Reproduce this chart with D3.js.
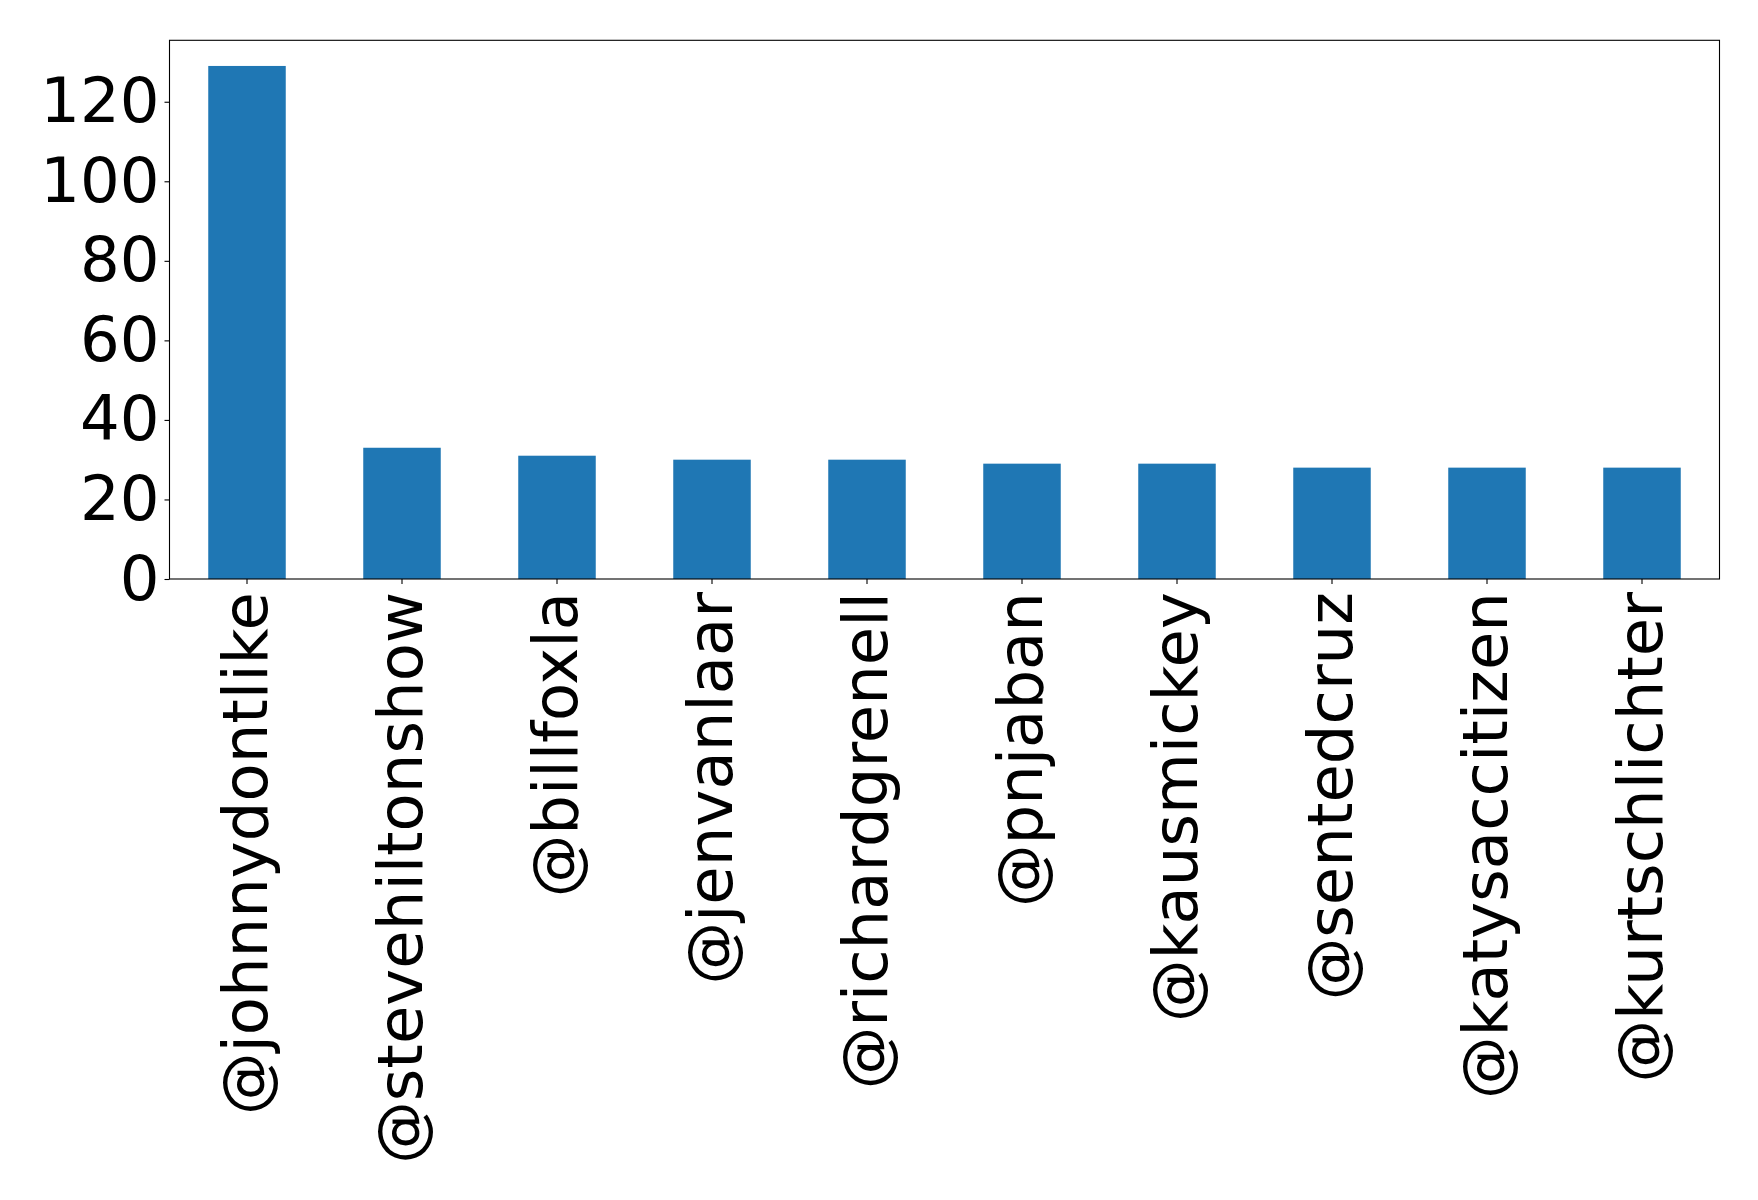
<!DOCTYPE html>
<html><head><meta charset="utf-8">
<script src="https://cdn.jsdelivr.net/npm/d3@7"></script>
<style>body{margin:0;background:#fff}svg{display:block}text{font-family:"DejaVu Sans",sans-serif}</style>
</head><body>
<script>
const categories = ["@johnnydontlike","@stevehiltonshow","@billfoxla","@jenvanlaar","@richardgrenell","@pnjaban","@kausmickey","@sentedcruz","@katysaccitizen","@kurtschlichter"];
const values = [129,33,31,30,30,29,29,28,28,28];
const yTicks = [0,20,40,60,80,100,120];

const W = 1758, H = 1200;
const m = {left:169.5, right:1719.5, top:40.3, bottom:579};
const svg = d3.select("body").append("svg").attr("width",W).attr("height",H);

const x = d3.scaleBand().domain(categories).range([m.left,m.right]).paddingInner(0.5).paddingOuter(0.25);
const y = d3.scaleLinear().domain([0, d3.max(values)*1.05]).range([m.bottom,m.top]);

svg.append("g").selectAll("rect").data(values).join("rect")
  .attr("x",(d,i)=>x(categories[i]))
  .attr("width",x.bandwidth())
  .attr("y",d=>y(d))
  .attr("height",d=>y(0)-y(d))
  .attr("fill","#1f77b4");

const fs = 62.5;
const ya = svg.append("g").attr("transform",`translate(${m.left},0)`)
  .call(d3.axisLeft(y).tickValues(yTicks).tickSize(5).tickPadding(5).tickFormat(d3.format("d")));
ya.select(".domain").remove();
ya.selectAll("text").attr("font-size",fs).attr("fill","#000").attr("font-family","DejaVu Sans");
ya.selectAll("line").attr("stroke","#000").attr("stroke-width",1.1);

const xa = svg.append("g").attr("transform",`translate(0,${m.bottom})`)
  .call(d3.axisBottom(x).tickSize(5).tickPadding(5));
xa.select(".domain").remove();
xa.selectAll("line").attr("stroke","#000").attr("stroke-width",1.1);
xa.selectAll("text")
  .attr("font-size",fs).attr("fill","#000").attr("font-family","DejaVu Sans")
  .attr("text-anchor","end")
  .attr("y",0).attr("dy","0.32em")
  .attr("x",-13)
  .attr("transform","rotate(-90)");

svg.append("rect").attr("x",m.left).attr("y",m.top).attr("width",m.right-m.left).attr("height",m.bottom-m.top)
  .attr("fill","none").attr("stroke","#000").attr("stroke-width",1.1);
</script>
</body></html>
